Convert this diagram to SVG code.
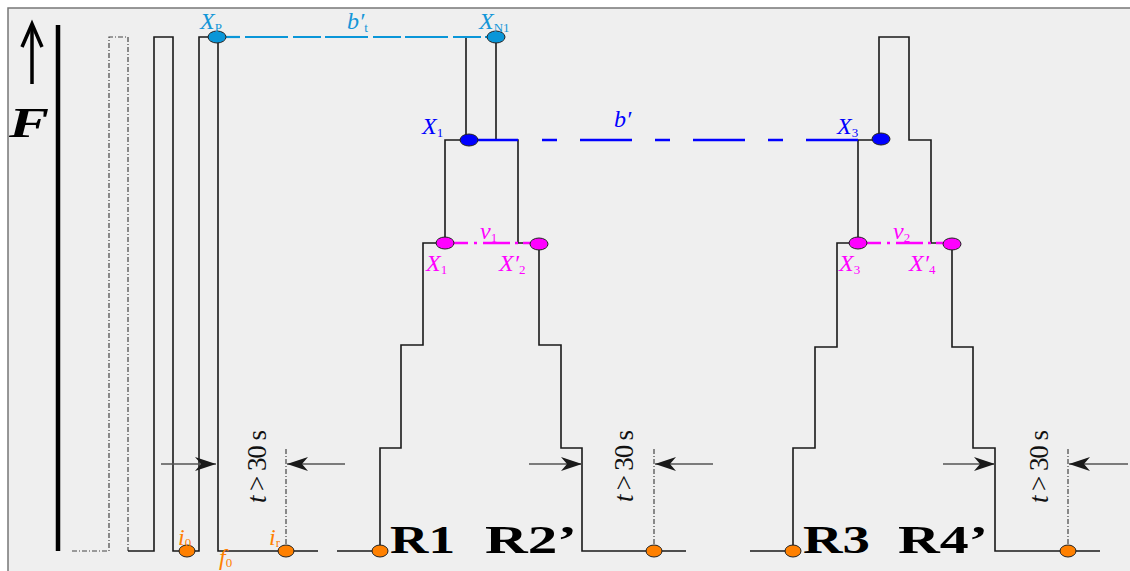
<svg xmlns="http://www.w3.org/2000/svg" width="1130" height="571" viewBox="0 0 1130 571">
<style>
.ln{fill:none;stroke:#1a1a1a;stroke-width:1.6}
.dd{fill:none;stroke:#444;stroke-width:1.2;stroke-dasharray:5,2,1,2}
.ar{fill:none;stroke:#555;stroke-width:1.5}
.lb{font-family:"Liberation Serif","Times New Roman",serif;font-style:italic;font-size:24px}
.sb{font-size:13px;font-style:normal}
.lbl{fill:#1496d8}
.blu{fill:#0000ff}
.mag{fill:#ff00ff}
.org{fill:#ff8000}
.R{font-family:"Liberation Serif","Times New Roman",serif;font-weight:bold;font-size:40px;fill:#000}
.tt{font-family:"Liberation Serif","Times New Roman",serif;font-size:27px;fill:#111}
.dot{stroke:#222;stroke-width:1}
</style>
<defs>
<marker id="ah" markerUnits="userSpaceOnUse" markerWidth="24" markerHeight="16" viewBox="-22 -8 24 16" refX="0" refY="0" orient="auto">
<path d="M0,0 L-21,-7 L-15,0 L-21,7 Z" fill="#1a1a1a"/>
</marker>
</defs>
<rect x="0" y="0" width="1130" height="571" fill="#ffffff"/>
<rect x="8" y="8" width="1130" height="571" fill="#efefef" stroke="#777" stroke-width="1.5"/>

<g id="axis">
<path d="M32,84 V25" stroke="#000" stroke-width="3.5" fill="none"/>
<path d="M22,47 L32,24 L42,47" stroke="#000" stroke-width="3.5" fill="none"/>
<text x="9" y="137" font-family="Liberation Serif,Times New Roman,serif" font-weight="bold" font-style="italic" font-size="42" textLength="40" lengthAdjust="spacingAndGlyphs">F</text>
<path d="M58,25 V551" stroke="#000" stroke-width="4.5" fill="none"/>
</g>

<g id="connectors">
<path class="dd" d="M72,551 H109 V37 H128 V551"/>
<path class="ln" d="M128,551 H154 V37 H173 V551 H199 V37 H218 V551 H318"/>
<path class="ln" d="M337,551 H380 V448 H401 V345 H423 V243 H445 V140 H466 V37"/>
<path class="ln" d="M496,37 V140 H518 V243 H539 V345 H561 V448 H582 V551 H686"/>
<path class="ln" d="M750,551 H793 V448 H815 V347 H837 V243 H858 V140 H879 V37 H909 V140 H931 V243 H952 V347 H973 V448 H995 V551 H1100"/>
<path d="M245,37 H487" fill="none" stroke="#0a96d8" stroke-width="2.2" stroke-dasharray="43,5,28,4"/>
<path d="M226,37 H240" fill="none" stroke="#0a96d8" stroke-width="2.2"/>
<path d="M470,140 H518" fill="none" stroke="#0000ff" stroke-width="2.5"/>
<path d="M542,140 H858" fill="none" stroke="#0000ff" stroke-width="2.5" stroke-dasharray="15,23,52,23"/>
<path d="M453,243 H531" fill="none" stroke="#ff00ff" stroke-width="2.5" stroke-dasharray="15,6,3,6,27,5,3,5"/>
<path d="M866,243 H944" fill="none" stroke="#ff00ff" stroke-width="2.5" stroke-dasharray="15,6,3,6,27,5,3,5"/>
<path class="dd" d="M286,449 V551"/>
<path class="dd" d="M654,449 V551"/>
<path class="dd" d="M1068,449 V551"/>
<path class="ar" d="M161,464 H216" marker-end="url(#ah)"/>
<path class="ar" d="M345,464 H287" marker-end="url(#ah)"/>
<path class="ar" d="M529,464 H582" marker-end="url(#ah)"/>
<path class="ar" d="M713,464 H655" marker-end="url(#ah)"/>
<path class="ar" d="M943,464 H995" marker-end="url(#ah)"/>
<path class="ar" d="M1128,464 H1069" marker-end="url(#ah)"/>
</g>

<g id="XP">
<ellipse class="dot" cx="217" cy="37" rx="9" ry="6" fill="#0a96d8"/>
<text class="lb lbl" x="200" y="29">X<tspan class="sb" dy="3">P</tspan></text>
</g>
<g id="XN1">
<ellipse class="dot" cx="496" cy="37" rx="9" ry="6" fill="#0a96d8"/>
<text class="lb lbl" x="479" y="29">X<tspan class="sb" dy="3">N1</tspan></text>
</g>
<g id="bt">
<text class="lb lbl" x="347" y="29">b′<tspan class="sb" dy="3" font-style="italic">t</tspan></text>
</g>
<g id="X1top">
<ellipse class="dot" cx="469" cy="140" rx="9" ry="6" fill="#0000ff"/>
<text class="lb blu" x="422" y="134">X<tspan class="sb" dy="3">1</tspan></text>
</g>
<g id="bp">
<text class="lb blu" x="614" y="127">b′</text>
</g>
<g id="X3top">
<ellipse class="dot" cx="881" cy="139" rx="9" ry="6" fill="#0000ff"/>
<text class="lb blu" x="837" y="134">X<tspan class="sb" dy="3">3</tspan></text>
</g>
<g id="X1mag">
<ellipse class="dot" cx="445" cy="243" rx="9" ry="6" fill="#ff00ff"/>
<text class="lb mag" x="426" y="271">X<tspan class="sb" dy="3">1</tspan></text>
</g>
<g id="X2mag">
<ellipse class="dot" cx="539" cy="244" rx="9" ry="6" fill="#ff00ff"/>
<text class="lb mag" x="499" y="271">X′<tspan class="sb" dy="3">2</tspan></text>
</g>
<g id="v1">
<text class="lb mag" x="480" y="239">v<tspan class="sb" dy="3">1</tspan></text>
</g>
<g id="X3mag">
<ellipse class="dot" cx="858" cy="243" rx="9" ry="6" fill="#ff00ff"/>
<text class="lb mag" x="839" y="271">X<tspan class="sb" dy="3">3</tspan></text>
</g>
<g id="X4mag">
<ellipse class="dot" cx="952" cy="244" rx="9" ry="6" fill="#ff00ff"/>
<text class="lb mag" x="909" y="271">X′<tspan class="sb" dy="3">4</tspan></text>
</g>
<g id="v2">
<text class="lb mag" x="893" y="239">v<tspan class="sb" dy="3">2</tspan></text>
</g>

<g id="i0">
<ellipse class="dot" cx="187" cy="551" rx="8" ry="6" fill="#ff8000"/>
<text class="lb org" x="178" y="545">i<tspan class="sb" dy="2">0</tspan></text>
</g>
<g id="ir">
<ellipse class="dot" cx="286" cy="551" rx="8" ry="6" fill="#ff8000"/>
<text class="lb org" x="269" y="545">i<tspan class="sb" dy="2">r</tspan></text>
</g>
<g id="f0">
<text class="lb org" x="219" y="565" font-size="20">f<tspan class="sb" dy="2">0</tspan></text>
</g>
<g id="R1dot">
<ellipse class="dot" cx="380" cy="551" rx="8" ry="6" fill="#ff8000"/>
</g>
<g id="R2dot">
<ellipse class="dot" cx="654" cy="551" rx="8" ry="6" fill="#ff8000"/>
</g>
<g id="R3dot">
<ellipse class="dot" cx="793" cy="551" rx="8" ry="6" fill="#ff8000"/>
</g>
<g id="R4dot">
<ellipse class="dot" cx="1068" cy="551" rx="8" ry="6" fill="#ff8000"/>
</g>

<g id="labelsR">
<text class="R" x="390" y="553" textLength="65" lengthAdjust="spacingAndGlyphs">R1</text>
<text class="R" x="485" y="553" textLength="92" lengthAdjust="spacingAndGlyphs">R2’</text>
<text class="R" x="803" y="553" textLength="67" lengthAdjust="spacingAndGlyphs">R3</text>
<text class="R" x="898" y="553" textLength="90" lengthAdjust="spacingAndGlyphs">R4’</text>
</g>

<g id="times">
<text class="tt" transform="translate(266,503) rotate(-90)" textLength="73" lengthAdjust="spacing"><tspan font-style="italic">t</tspan> &gt; 30 s</text>
<text class="tt" transform="translate(633,502) rotate(-90)" textLength="72" lengthAdjust="spacing"><tspan font-style="italic">t</tspan> &gt; 30 s</text>
<text class="tt" transform="translate(1048,503) rotate(-90)" textLength="73" lengthAdjust="spacing"><tspan font-style="italic">t</tspan> &gt; 30 s</text>
</g>
</svg>
